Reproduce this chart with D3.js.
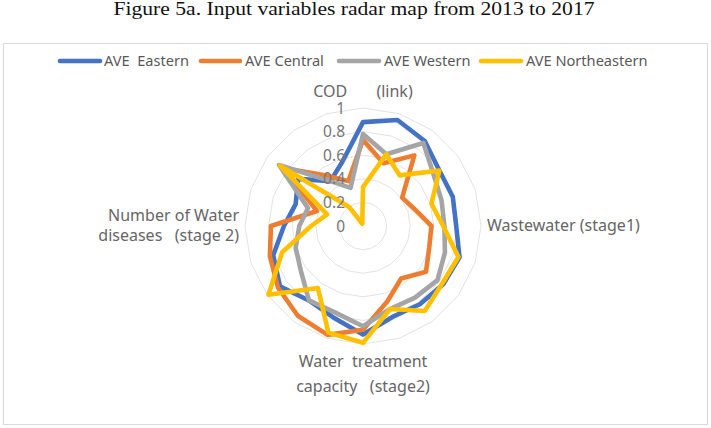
<!DOCTYPE html>
<html>
<head>
<meta charset="utf-8">
<script src="https://cdn.jsdelivr.net/npm/d3@7/dist/d3.min.js"></script>
<style>
  html, body { margin: 0; padding: 0; background: #fff; }
  svg { display: block; }
</style>
</head>
<body>
<svg id="chart" width="711" height="428"></svg>
<script>
// ---------------- data ----------------
const title = "Figure 5a. Input variables radar map from 2013 to 2017";
const categories = [
  "COD       (link)", "", "", "", "",
  "Wastewater (stage1)", "", "", "", "",
  "Water  treatment|capacity   (stage2)", "", "", "", "",
  "Number of Water|diseases   (stage 2)", "", "", "", ""
];
const seriesNames = ["AVE  Eastern", "AVE Central", "AVE Western", "AVE Northeastern"];
const eastern      = [0.88, 0.945, 0.89, 0.80, 0.80, 0.79, 0.86, 0.84, 0.82, 0.81, 0.92, 0.815, 0.78, 0.87, 0.80, 0.67, 0.60, 0.68, 0.47, 0.57];
const central      = [0.73, 0.56, 0.74, 0.41, 0.46, 0.58, 0.59, 0.66, 0.55, 0.67, 0.88, 0.97, 0.94, 0.89, 0.83, 0.78, 0.41, 0.835, 0.53, 0.40];
const western      = [0.78, 0.64, 0.87, 0.74, 0.70, 0.69, 0.73, 0.78, 0.75, 0.74, 0.85, 0.77, 0.78, 0.65, 0.60, 0.54, 0.49, 0.88, 0.47, 0.34];
const northeastern = [0.33, 0.64, 0.53, 0.80, 0.61, 0.68, 0.85, 0.83, 0.89, 0.74, 0.99, 0.95, 0.65, 0.99, 0.72, 0.44, 0.32, 0.87, 0.20, 0.02];
const tickValues = [0, 0.2, 0.4, 0.6, 0.8, 1];
const tickLabels = ["0", "0.2", "0.4", "0.6", "0.8", "1"];
const colors = ["#4472C4", "#ED7D31", "#A5A5A5", "#FFC000"];

// ---------------- layout ----------------
const svg = d3.select("#chart");
const cx = 363, cy = 226, R = 118;
const font = "'Noto Sans', 'DejaVu Sans', sans-serif";

const r = d3.scaleLinear().domain([0, 1]).range([0, R]);
const angle = d3.scaleLinear().domain([0, categories.length]).range([0, 2 * Math.PI]);

// title
svg.append("text")
  .attr("x", 354).attr("y", 15)
  .attr("text-anchor", "middle")
  .attr("font-family", "'Liberation Serif', 'DejaVu Serif', serif")
  .attr("font-size", 18)
  .attr("fill", "#111")
  .attr("textLength", 481)
  .attr("lengthAdjust", "spacingAndGlyphs")
  .text(title);

// chart frame
svg.append("rect")
  .attr("x", 3.5).attr("y", 43.5)
  .attr("width", 704).attr("height", 381)
  .attr("fill", "#fff")
  .attr("stroke", "#d9d9d9").attr("stroke-width", 1);

const g = svg.append("g").attr("transform", `translate(${cx},${cy})`);

// grid polygons
const gridLine = d3.lineRadial()
  .angle((d, i) => angle(i))
  .radius(d => r(d))
  .curve(d3.curveLinearClosed);

tickValues.slice(1).forEach(t => {
  g.append("path")
    .attr("d", gridLine(categories.map(() => t)))
    .attr("fill", "none")
    .attr("stroke", "#e3e3e3")
    .attr("stroke-width", 1);
});

// series
const allSeries = [eastern, central, western, northeastern];
const seriesLine = d3.lineRadial()
  .angle((d, i) => angle(i))
  .radius(d => r(d))
  .curve(d3.curveLinearClosed);

allSeries.forEach((s, i) => {
  g.append("path")
    .attr("d", seriesLine(s))
    .attr("fill", "none")
    .attr("stroke", colors[i])
    .attr("stroke-width", 4.6)
    .attr("stroke-linejoin", "round")
    .attr("stroke-linecap", "round");
});

// tick labels along first spoke
tickValues.forEach((t, i) => {
  g.append("text")
    .attr("x", -18)
    .attr("y", -r(t))
    .attr("dy", "0.36em")
    .attr("text-anchor", "end")
    .attr("font-family", font)
    .attr("font-size", 15.5)
    .attr("fill", "#767676")
    .text(tickLabels[i]);
});

// category labels
const labelPos = {
  0: { x: 0, y: -135, anchor: "middle", lh: 20 },
  5: { x: 124, y: -1, anchor: "start", lh: 20 },
  10: { x: 0, y: 135, anchor: "middle", lh: 25 },
  15: { x: -124, y: -11, anchor: "end", lh: 20 }
};
categories.forEach((c, i) => {
  if (!c) return;
  const p = labelPos[i];
  const lines = c.split("|");
  const t = g.append("text")
    .attr("x", p.x).attr("y", p.y)
    .attr("text-anchor", p.anchor)
    .attr("font-family", font)
    .attr("font-size", 16)
    .attr("fill", "#666")
    .attr("xml:space", "preserve")
    .style("white-space", "pre");
  lines.forEach((ln, j) => {
    t.append("tspan")
      .attr("x", p.x)
      .attr("y", p.y + j * p.lh)
      .attr("dy", "0.36em")
      .text(ln);
  });
});

// legend
const legendItems = [
  { x1: 60, x2: 100, tx: 104 },
  { x1: 201, x2: 240, tx: 245 },
  { x1: 339, x2: 379, tx: 384 },
  { x1: 481, x2: 521, tx: 526 }
];
const ly = 61;
legendItems.forEach((it, i) => {
  svg.append("line")
    .attr("x1", it.x1).attr("x2", it.x2)
    .attr("y1", ly).attr("y2", ly)
    .attr("stroke", colors[i])
    .attr("stroke-width", 4.6)
    .attr("stroke-linecap", "round");
  svg.append("text")
    .attr("x", it.tx).attr("y", ly)
    .attr("dy", "0.36em")
    .attr("font-family", font)
    .attr("font-size", 14.6)
    .attr("fill", "#595959")
    .attr("xml:space", "preserve")
    .style("white-space", "pre")
    .text(seriesNames[i]);
});
</script>
</body>
</html>
